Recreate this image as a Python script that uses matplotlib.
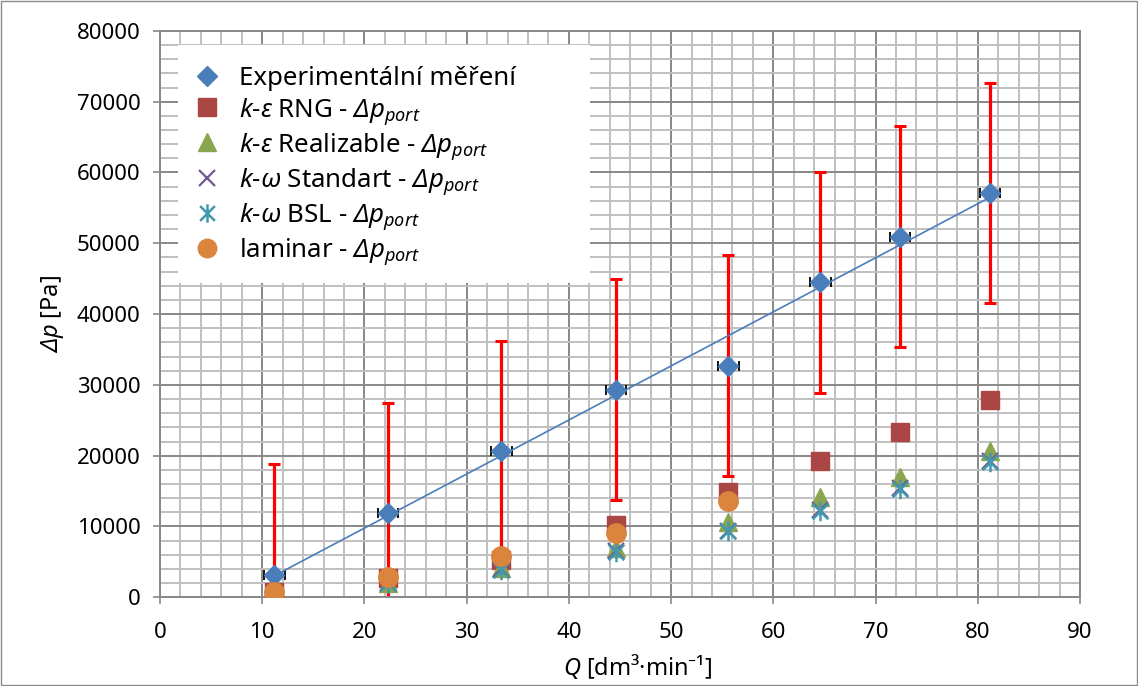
import numpy as np
import matplotlib
matplotlib.use("Agg")
import matplotlib.pyplot as plt
from matplotlib.path import Path
from matplotlib.patches import Rectangle

plt.rcParams['font.family'] = ['Noto Sans', 'DejaVu Sans']
plt.rcParams['mathtext.fontset'] = 'custom'
plt.rcParams['mathtext.rm'] = 'Noto Sans:italic'
plt.rcParams['mathtext.it'] = 'Noto Sans:italic'
plt.rcParams['mathtext.bf'] = 'Noto Sans:bold'

# ---- data ----
Q = [11.2, 22.3, 33.4, 44.6, 55.6, 64.6, 72.4, 81.2]
dp_exp = [3200, 11900, 20600, 29300, 32700, 44500, 50900, 57100]
dp_err = [15600, 15600, 15600, 15600, 15600, 15600, 15600, 15600]
Q_err = [1.0, 1.0, 1.0, 1.0, 1.0, 1.0, 1.0, 1.0]
dp_rng = [700, 2700, 5300, 10200, 14900, 19300, 23400, 27900]
dp_real = [600, 2000, 4200, 6900, 10600, 14100, 17000, 20600]
dp_std = [500, 2000, 4000, 6500, 9400, 12300, 15400, 19200]
dp_bsl = [500, 2000, 3900, 6400, 9300, 12200, 15300, 19100]
dp_lam = [800, 2900, 5800, 9100, 13600]

labels = [
    "Experimentální měření",
    r"$k$-$ε$ RNG - $Δp_{port}$",
    r"$k$-$ε$ Realizable - $Δp_{port}$",
    r"$k$-$ω$ Standart - $Δp_{port}$",
    r"$k$-$ω$ BSL - $Δp_{port}$",
    r"laminar - $Δp_{port}$",
]
x_ticks = list(range(0, 91, 10))
y_ticks = list(range(0, 80001, 10000))

c_exp = '#4a7ebb'
c_rng = '#aa4643'
c_real = '#89a54e'
c_std = '#71588f'
c_bsl = '#4198af'
c_lam = '#db843d'

star = Path([(0, -1), (0, 1), (-0.8, -0.8), (0.8, 0.8), (-0.8, 0.8), (0.8, -0.8)],
            [Path.MOVETO, Path.LINETO, Path.MOVETO, Path.LINETO, Path.MOVETO, Path.LINETO])

fig = plt.figure(figsize=(11.38, 6.86), dpi=100)
fig.patches.append(Rectangle((0.001, 0.001), 0.998, 0.997, transform=fig.transFigure,
                             fill=False, edgecolor='#8c8c8c', linewidth=1.0))
ax = fig.add_axes([0.1406, 0.1293, 0.8084, 0.8257])

ax.set_xlim(0, 90)
ax.set_ylim(0, 80000)
ax.set_xticks(x_ticks)
ax.set_yticks(y_ticks)
ax.set_xticks(np.arange(0, 91, 2), minor=True)
ax.set_yticks(np.arange(0, 80001, 2000), minor=True)
ax.grid(which='minor', color='#c0c0c0', linewidth=1.4, zorder=0)
ax.grid(which='major', color='#888888', linewidth=1.4, zorder=0.5)
ax.set_axisbelow(True)
for s in ax.spines.values():
    s.set_color('#888888')
    s.set_linewidth(1.4)
ax.tick_params(which='minor', length=0)
ax.tick_params(which='major', length=5, width=1.2, color='#888888', labelsize=16)
ax.tick_params(axis='x', pad=13)
ax.tick_params(axis='y', pad=9)

# red vertical error bars + black horizontal ones (series 1)
ax.errorbar(Q, dp_exp, yerr=dp_err, fmt='none', ecolor='#ff0000', elinewidth=2.3,
            capsize=4.5, capthick=2.2, zorder=2)
ax.errorbar(Q, dp_exp, xerr=Q_err, fmt='none', ecolor='black', elinewidth=1.3,
            capsize=3.5, capthick=1.3, zorder=2)

# trend line
coef = np.polyfit(Q, dp_exp, 1)
xs = np.array([Q[0], Q[-1]])
ax.plot(xs, np.polyval(coef, xs), color=c_exp, linewidth=1.2, zorder=2.5)

ax.plot(Q, dp_exp, linestyle='none', marker='D', markersize=10.5, color=c_exp,
        markeredgecolor=c_exp, label=labels[0], zorder=3)
ax.plot(Q, dp_rng, linestyle='none', marker='s', markersize=13, color=c_rng,
        markeredgecolor=c_rng, label=labels[1], zorder=3.1)
ax.plot(Q, dp_real, linestyle='none', marker='^', markersize=13, color=c_real,
        markeredgecolor=c_real, label=labels[2], zorder=3.2)
ax.plot(Q, dp_std, linestyle='none', marker='x', markersize=12, color=c_std,
        markeredgewidth=1.6, label=labels[3], zorder=3.3)
ax.plot(Q, dp_bsl, linestyle='none', marker=star, markersize=14, color=c_bsl,
        markeredgewidth=1.8, label=labels[4], zorder=3.4)
ax.plot(Q[:len(dp_lam)], dp_lam, linestyle='none', marker='o', markersize=14, color=c_lam,
        markeredgecolor=c_lam, label=labels[5], zorder=3.5)

# legend background box (Excel-style legend area)
ax.add_patch(Rectangle((0.0196, 0.555), 0.4478, 0.42, transform=ax.transAxes,
                       facecolor='white', edgecolor='none', zorder=9))
leg = ax.legend(loc='upper left', bbox_to_anchor=(0.0142, 0.9715), borderaxespad=0,
                frameon=False, fontsize=18.6, labelspacing=0.16, handletextpad=0.7,
                borderpad=0.75, handlelength=1.1, markerscale=0.95)
leg.set_zorder(10)

ax.set_xlabel("$Q$ [dm³·min⁻¹]", fontsize=17, labelpad=6)
ax.xaxis.label.set_x(0.5185)
ax.set_ylabel("$Δp$ [Pa]", fontsize=17, labelpad=8)

fig.savefig('out.png', dpi=100)
